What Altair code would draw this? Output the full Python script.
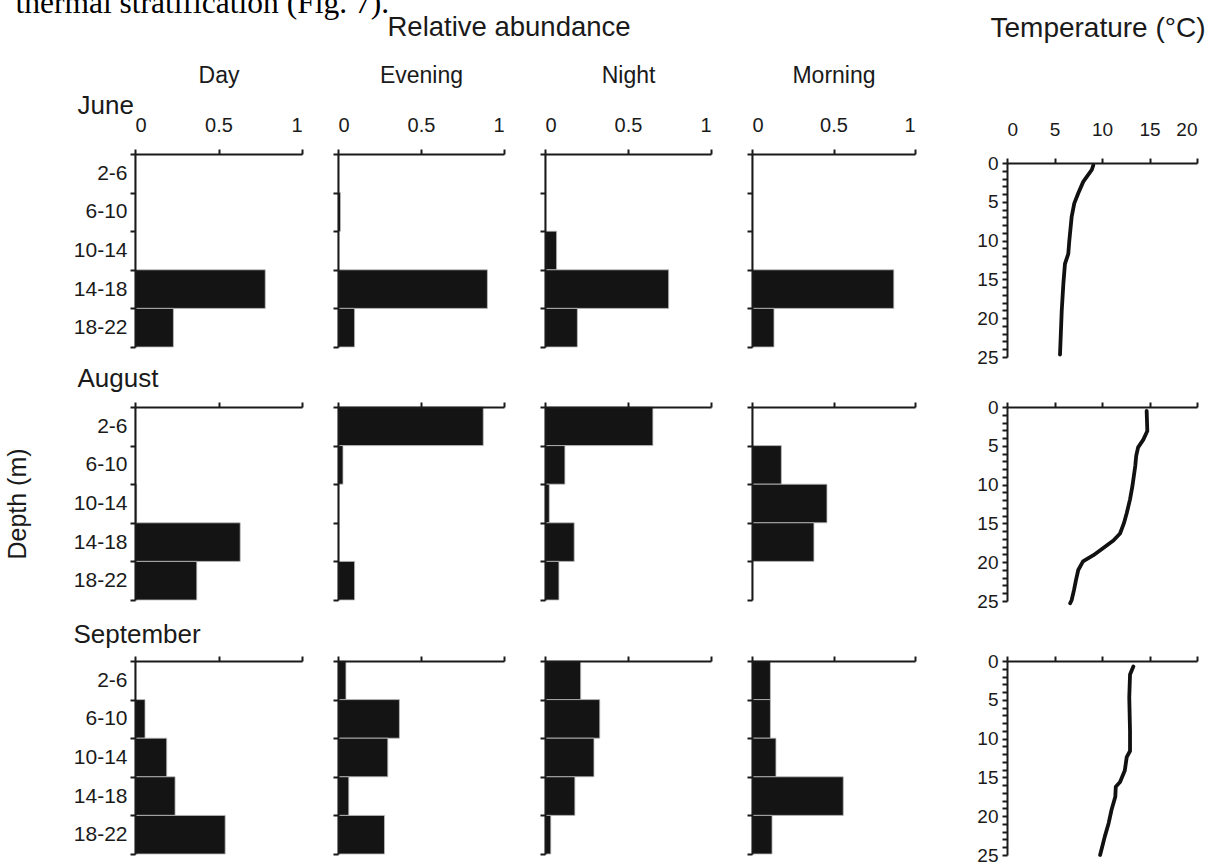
import altair as alt
import pandas as pd

FONT = "Liberation Sans"
SERIF = "Liberation Serif"
INK = "#1a1a1a"

# depth classes (m), top to bottom
depth_bins = ["2-6", "6-10", "10-14", "14-18", "18-22"]
periods = ["Day", "Evening", "Night", "Morning"]
months = ["June", "August", "September"]

# relative abundance per depth class
june_day = [0, 0, 0, 0.78, 0.23]
june_evening = [0, 0.015, 0, 0.90, 0.10]
june_night = [0, 0, 0.07, 0.745, 0.195]
june_morning = [0, 0, 0, 0.87, 0.135]

august_day = [0, 0, 0.01, 0.63, 0.37]
august_evening = [0.875, 0.03, 0.006, 0.006, 0.10]
august_night = [0.65, 0.12, 0.026, 0.176, 0.084]
august_morning = [0, 0.18, 0.46, 0.38, 0]

september_day = [0, 0.06, 0.19, 0.24, 0.54]
september_evening = [0.048, 0.37, 0.30, 0.065, 0.28]
september_night = [0.215, 0.33, 0.295, 0.18, 0.035]
september_morning = [0.113, 0.113, 0.147, 0.56, 0.123]

abundance = {
    "June": [june_day, june_evening, june_night, june_morning],
    "August": [august_day, august_evening, august_night, august_morning],
    "September": [september_day, september_evening, september_night, september_morning],
}

# temperature profiles: depth (m) and temperature (deg C)
june_depth = [0.3, 0.9, 2.4, 3.9, 5.2, 6.9, 10.0, 11.7, 13.0, 15.6, 19.1, 24.7]
june_temp = [9.08, 8.92, 8.03, 7.5, 7.08, 6.81, 6.56, 6.45, 6.1, 5.93, 5.76, 5.58]

august_depth = [0.5, 3.1, 4.2, 5.2, 6.3, 7.6, 10.2, 11.9, 13.7, 15.0, 16.3, 17.2,
                18.2, 19.1, 19.9, 21.0, 22.3, 23.6, 24.9, 25.3]
august_temp = [14.7, 14.77, 14.35, 13.8, 13.6, 13.5, 13.2, 12.95, 12.6, 12.3, 11.9, 11.2,
               10.1, 9.1, 8.0, 7.5, 7.26, 7.05, 6.8, 6.65]

september_depth = [0.7, 1.75, 4.7, 9.0, 11.6, 12.4, 14.1, 15.6, 16.2, 17.5, 19.2, 20.9, 22.6, 25.0]
september_temp = [13.3, 12.95, 12.87, 12.95, 12.95, 12.6, 12.4, 11.9, 11.45, 11.4, 11.0, 10.7, 10.3, 9.8]

profiles = {
    "June": (june_depth, june_temp),
    "August": (august_depth, august_temp),
    "September": (september_depth, september_temp),
}

# plot extent of each abundance scale, and the width of the cell that holds it
scale_widths = {"Day": 167, "Evening": 166, "Night": 166, "Morning": 163}
cell_widths = {"Day": 167, "Evening": 171, "Night": 171, "Morning": 219}
BAR_H = 193
TEMP_W = 190
TEMP_H = 194
# vertical room of each temperature cell: (top gap, cell height)
temp_cells = {"June": (9, 203), "August": (0, 204), "September": (0, 194)}

month_label = {"June": (-58, -41), "August": (-58, -21), "September": (-62, -19)}


def bar_panel(month, period, values):
    df = pd.DataFrame({"depth": depth_bins, "abundance": values})
    first_row = month == "June"
    first_col = period == "Day"

    x_kw = dict(orient="top", values=[0, 0.5, 1], format="~g", labels=first_row,
                labelFontSize=20, labelPadding=14, zindex=2)
    if first_col:
        tx, ty = month_label[month]
        x_kw.update(title=month, titleFontSize=26, titleAngle=0, titleX=tx, titleY=ty,
                    titleAlign="left", titleBaseline="alphabetic")
    elif first_row and period == "Evening":
        x_kw.update(title="Relative abundance", titleFontSize=27.5, titleAngle=0,
                    titleX=49, titleY=-119, titleAlign="left", titleBaseline="alphabetic")
    else:
        x_kw.update(title=None)

    y_kw = dict(orient="left", tickBand="extent", labels=first_col,
                labelFontSize=21, labelPadding=3, zindex=2)
    if first_col and month == "August":
        y_kw.update(title="Depth (m)", titleFontSize=25, titleAngle=270, titleX=-118,
                    titleY=BAR_H / 2, titleAlign="center", titleBaseline="middle")
    elif first_row:
        # period name centred over the panel
        y_kw.update(title=period, titleFontSize=23, titleAngle=0,
                    titleX=scale_widths[period] / 2, titleY=-72,
                    titleAlign="center", titleBaseline="alphabetic")
    else:
        y_kw.update(title=None)

    return alt.Chart(df).mark_bar(fill="#141414", stroke="#bdbdbd", strokeWidth=0.8).encode(
        x=alt.X("abundance:Q",
                scale=alt.Scale(domain=[0, 1], nice=False, range=[0, scale_widths[period]]),
                axis=alt.Axis(**x_kw)),
        y=alt.Y("depth:N", sort=depth_bins,
                scale=alt.Scale(paddingInner=0, paddingOuter=0), axis=alt.Axis(**y_kw)),
    ).properties(width=cell_widths[period], height=BAR_H)


def temp_panel(month):
    depth, temp = profiles[month]
    df = pd.DataFrame({"depth": depth, "temp": temp})
    top, cell_h = temp_cells[month]
    x_kw = dict(orient="top", values=[0, 5, 10, 15, 20], labels=month == "June",
                labelFontSize=19, labelPadding=19, offset=-top, zindex=2)
    y_kw = dict(orient="left", values=list(range(26)),
                labelExpr="datum.value % 5 === 0 ? datum.label : ''",
                labelFontSize=19, labelPadding=4, zindex=2)
    if month == "June":
        x_kw.update(title="Temperature (°C)", titleFontSize=28, titleAngle=0, titleX=-17,
                    titleY=-127, titleAlign="left", titleBaseline="alphabetic")
        # last line of the running text above the figure
        y_kw.update(title="thermal stratification (Fig. 7).", titleFont=SERIF,
                    titleFontSize=31.5, titleColor="#000000", titleAngle=0, titleX=-992,
                    titleY=-142, titleAlign="left", titleBaseline="alphabetic")
    else:
        x_kw.update(title=None)
        y_kw.update(title=None)
    return alt.Chart(df).mark_line(color="#111111", strokeWidth=3.8, strokeCap="round",
                                   strokeJoin="round").encode(
        x=alt.X("temp:Q", scale=alt.Scale(domain=[0, 20], nice=False), axis=alt.Axis(**x_kw)),
        y=alt.Y("depth:Q",
                scale=alt.Scale(domain=[0, 25], nice=False, range=[top, top + TEMP_H]),
                axis=alt.Axis(**y_kw)),
        order="depth:Q",
    ).properties(width=TEMP_W, height=cell_h)


panels = []
for month in months:
    for i, period in enumerate(periods):
        panels.append(bar_panel(month, period, abundance[month][i]))
    panels.append(temp_panel(month))

chart = alt.concat(
    *panels, columns=5, bounds="flush", spacing={"row": 50, "column": 36},
    padding={"left": 5, "top": -13, "right": 0, "bottom": 0},
).configure_view(strokeOpacity=0).configure_axis(
    grid=False, domainColor=INK, domainWidth=2, tickColor=INK, tickWidth=2, tickSize=5,
    labelFont=FONT, labelColor=INK, titleFont=FONT, titleColor=INK,
    titleFontWeight="normal",
)

chart.save("out.html", embed_options={"renderer": "svg", "actions": False})
